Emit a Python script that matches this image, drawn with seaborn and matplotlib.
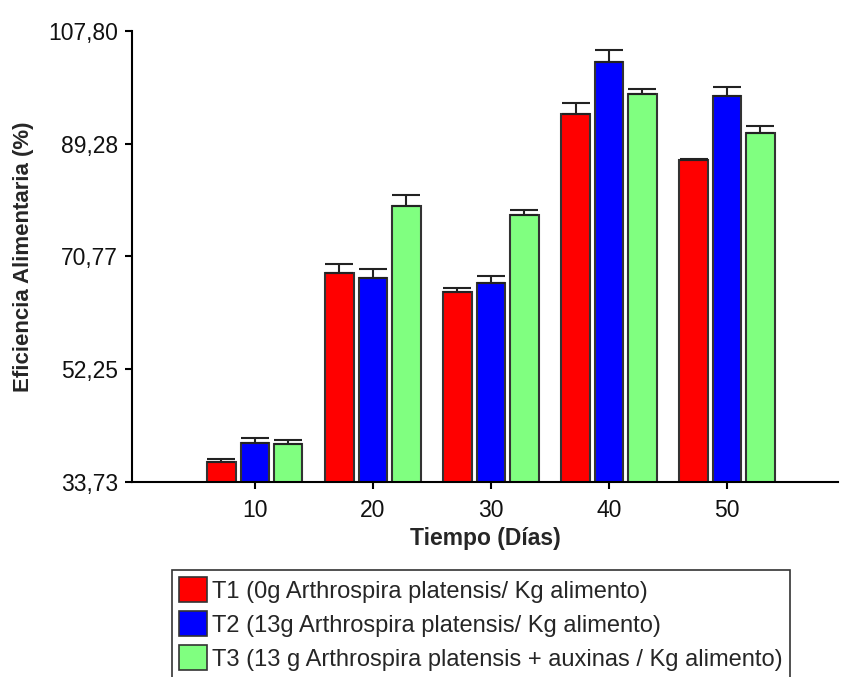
import matplotlib
matplotlib.use("Agg")
import matplotlib.pyplot as plt
import seaborn as sns
import pandas as pd
from matplotlib.ticker import FixedLocator, FuncFormatter
from matplotlib.patches import Patch

days = ["10", "20", "30", "40", "50"]
treatments = [
    "T1 (0g Arthrospira platensis/ Kg alimento)",
    "T2 (13g Arthrospira platensis/ Kg alimento)",
    "T3 (13 g Arthrospira platensis + auxinas / Kg alimento)",
]
t1_values = [37.0, 68.1, 64.9, 94.2, 86.6]
t2_values = [40.2, 67.2, 66.4, 102.7, 97.1]
t3_values = [40.0, 79.1, 77.6, 97.4, 91.0]
t1_err = [0.55, 1.5, 0.65, 1.75, 0.15]
t2_err = [0.8, 1.5, 1.15, 1.95, 1.5]
t3_err = [0.55, 1.8, 0.8, 0.95, 1.25]
y_ticks = [33.73, 52.25, 70.77, 89.28, 107.80]
colors = ["#ff0000", "#0000ff", "#80ff80"]

values = [t1_values, t2_values, t3_values]
errors = [t1_err, t2_err, t3_err]

rows = []
for t, vals in zip(treatments, values):
    for d, v in zip(days, vals):
        rows.append({"Tiempo": d, "Tratamiento": t, "Valor": v})
df = pd.DataFrame(rows)

sns.set_style("white")
plt.rcParams["font.family"] = ["Liberation Sans", "DejaVu Sans"]

fig = plt.figure(figsize=(8.41, 6.77), dpi=100)
ax = fig.add_axes([132 / 841, 1 - 482 / 677, (838 - 132) / 841, (482 - 31) / 677])

sns.barplot(data=df, x="Tiempo", y="Valor", hue="Tratamiento", order=days,
            hue_order=treatments, palette=colors, edgecolor="#333333",
            linewidth=1.5, errorbar=None, width=0.85, gap=0.15,
            saturation=1, ax=ax, legend=False)

for container, errs in zip(ax.containers, errors):
    for bar, e in zip(container, errs):
        x = bar.get_x() + bar.get_width() / 2
        y = bar.get_y() + bar.get_height()
        ax.errorbar(x, y, yerr=[[0], [e]], fmt="none", ecolor="#222222",
                    elinewidth=1.5, capsize=10, capthick=1.5, zorder=1)

ax.set_ylim(y_ticks[0], y_ticks[-1])
ax.set_xlim(-1.04, 4.94)
ax.yaxis.set_major_locator(FixedLocator(y_ticks))
ax.yaxis.set_major_formatter(FuncFormatter(lambda v, p: f"{v:.2f}".replace(".", ",")))

for s in ["top", "right"]:
    ax.spines[s].set_visible(False)
for s in ["left", "bottom"]:
    ax.spines[s].set_color("black")
    ax.spines[s].set_linewidth(1.5)

ax.tick_params(axis="both", direction="out", length=5, width=1.5, color="black",
               labelsize=16.5, labelcolor="#111111", left=True, bottom=True)
ax.tick_params(axis="x", pad=7)
ax.tick_params(axis="y", pad=5)
ax.set_xlabel("Tiempo (Días)", fontsize=16.5, fontweight="bold", labelpad=4)
ax.set_ylabel("Eficiencia Alimentaria (%)", fontsize=16, fontweight="bold", labelpad=10)

handles = [Patch(facecolor=c, edgecolor="#333333", linewidth=1.2) for c in colors]
leg = fig.legend(handles, treatments, loc="upper left",
                 bbox_to_anchor=(172 / 841, 1 - 570 / 677), borderaxespad=0,
                 fontsize=17, frameon=True, fancybox=False, edgecolor="black",
                 handlelength=1.2, handleheight=1.27, handletextpad=0.2,
                 labelspacing=0.36, borderpad=0.3)
leg.get_frame().set_linewidth(1.2)

fig.savefig("out.png", dpi=100)
